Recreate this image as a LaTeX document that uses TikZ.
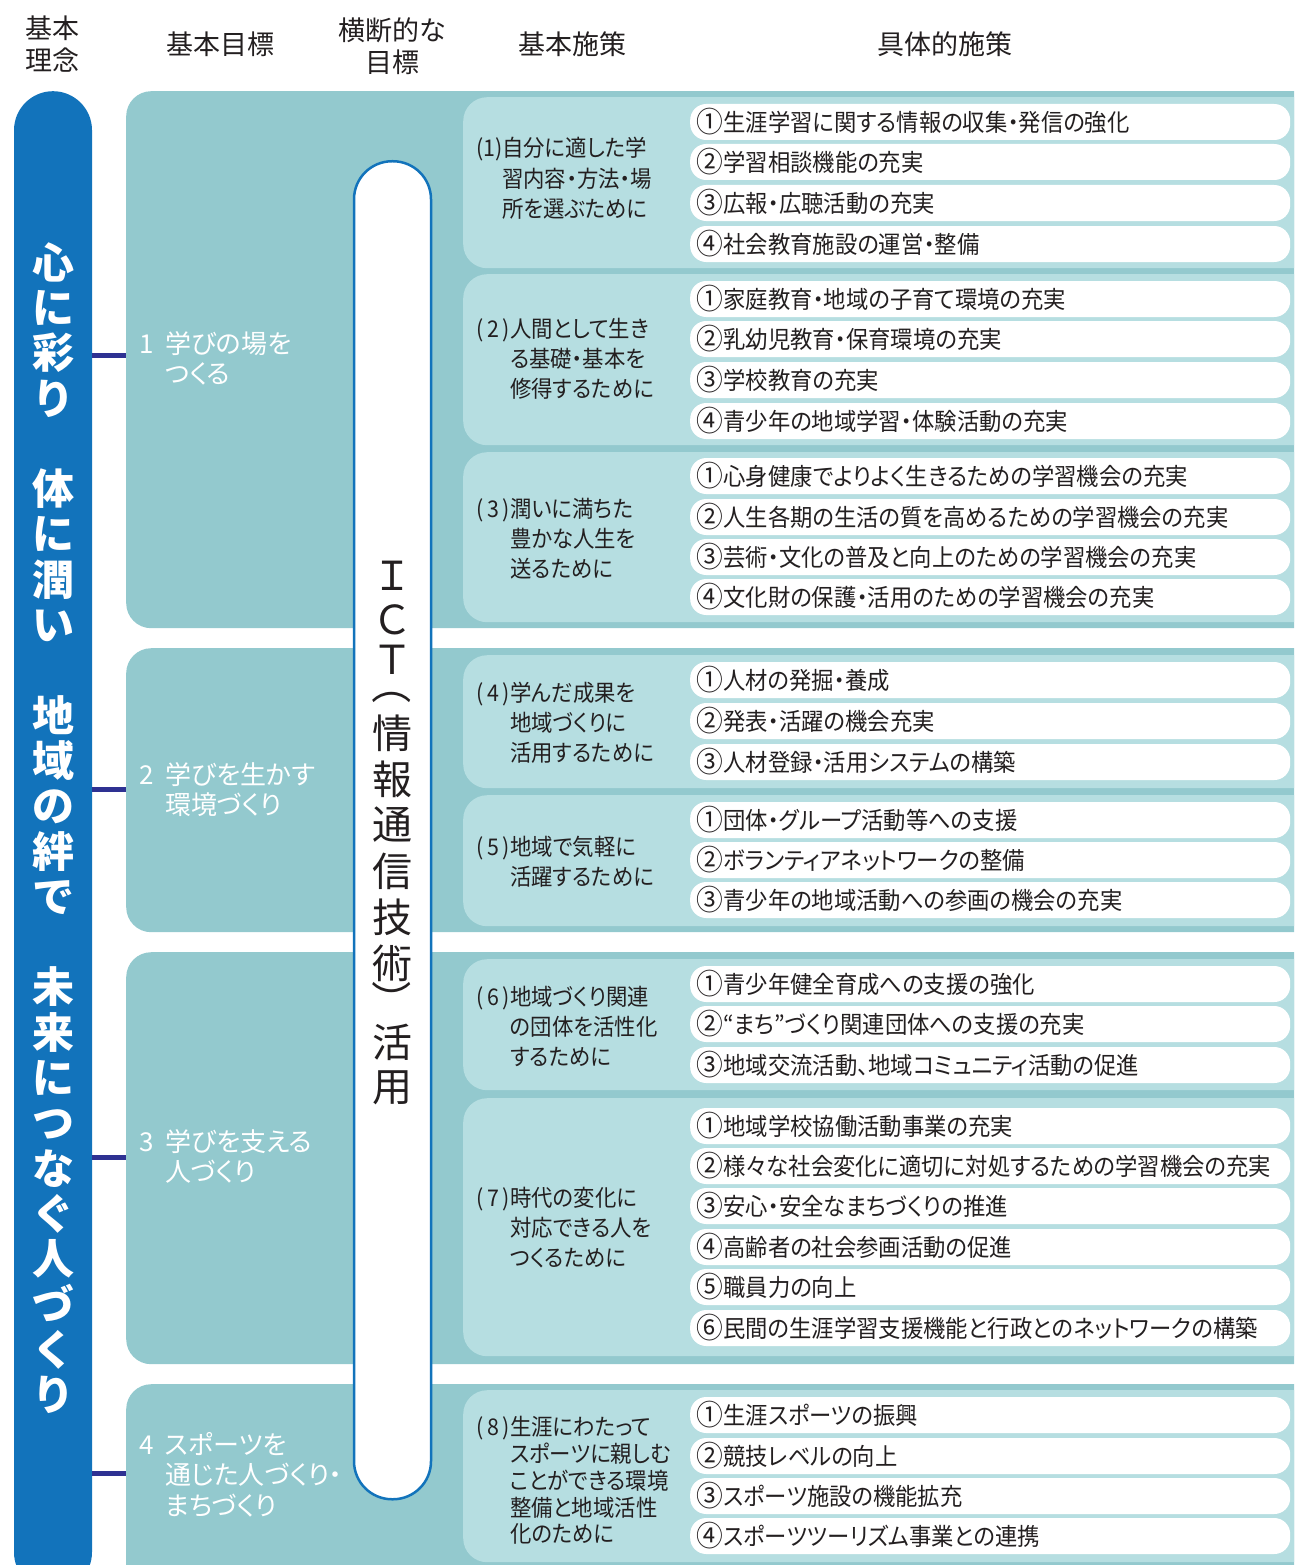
\documentclass[tikz,border=0pt]{standalone}
\usepackage{fontspec}
\setmainfont{Noto Sans CJK JP}
\newfontfamily\jpc{Noto Sans CJK JP}[RawFeature={+palt}, FakeStretch=0.93]
\newfontfamily\jpp{Noto Sans CJK JP}[RawFeature={+palt}]
\definecolor{barblue}{RGB}{18,115,187}
\definecolor{panelc}{RGB}{147,201,206}
\definecolor{subc}{RGB}{182,222,225}
\definecolor{navy}{RGB}{46,49,146}
\definecolor{ink}{RGB}{35,31,32}
\newcommand\hanglbl[3]{\begin{tabular}{@{}l@{}l@{}}#2&\begin{tabular}[t]{@{}l@{}}#3\end{tabular}\end{tabular}}
\newcommand\pnum[2]{\makebox[#1][s]{(\hfil#2\hfil)}}
\newcommand\cnum[1]{\raisebox{-1.6pt}{\scalebox{1.2}{#1}}\hspace{0.5pt}}
\begin{document}
\begin{tikzpicture}[x=1pt,y=-1pt,
  bar/.style={fill=barblue, rounded corners=39pt, minimum width=78pt, minimum height=1500pt, anchor=north, inner sep=0pt},
  panel/.style={fill=panelc, rounded corners=25pt, minimum width=1200pt, anchor=north west, inner sep=0pt},
  subpanel/.style={fill=subc, rounded corners=24pt, minimum width=880pt, anchor=north west, inner sep=0pt},
  item/.style={fill=white, rounded corners=16pt, minimum width=600pt, minimum height=36pt, anchor=west, inner xsep=6pt, inner ysep=0pt, text width=588pt, align=left, font=\jpc\fontsize{24}{28}\selectfont, text=ink},
  lbl/.style={anchor=west, inner sep=0pt, text=ink, font=\jpc\fontsize{23}{30}\selectfont},
  goal/.style={anchor=west, inner sep=0pt, text=white, font=\jpp\fontsize{26}{30}\selectfont},
  head/.style={inner sep=0pt, text=ink, align=center, font=\jpp\fontsize{27}{32}\selectfont},
  ictbar/.style={fill=white, draw=barblue, line width=2.5pt, rounded corners=38pt, minimum width=77pt, minimum height=1338pt, anchor=north, inner sep=0pt},
  ictch/.style={inner sep=0pt, text=ink, font=\fontsize{40}{40}\selectfont},
  conn/.style={draw=navy, line width=5pt}
]
\useasboundingbox (0,0) rectangle (1294,1565);
\begin{scope}
\clip (0,0) rectangle (1294,1565);
% headers
\node[head] (h1) at (52,44) {基本\\理念};
\node[head] (h2) at (220,44) {基本目標};
\node[head] (h3) at (392,46) {横断的な\\目標};
\node[head] (h4) at (572,44) {基本施策};
\node[head] (h5) at (945,44) {具体的施策};
% basic philosophy bar
\node[bar] (bar) at (53,91) {};
\node[inner sep=0pt, text=white, align=center, font=\bfseries\fontsize{42}{45.3}\selectfont] (motto) at (53,828)
  {心\\に\\彩\\り\\\mbox{}\\体\\に\\潤\\い\\\mbox{}\\地\\域\\の\\絆\\で\\\mbox{}\\未\\来\\に\\つ\\な\\ぐ\\人\\づ\\く\\り};
% goal panels
\node[panel, minimum height=537pt] (p1) at (126,91) {};
\node[panel, minimum height=284pt] (p2) at (126,648) {};
\node[panel, minimum height=412pt] (p3) at (126,952) {};
\node[panel, minimum height=250pt] (p4) at (126,1384) {};
% connectors
\coordinate (c1) at (0,355);
\coordinate (c2) at (0,789);
\coordinate (c3) at (0,1157);
\coordinate (c4) at (0,1473);
\draw[conn] (bar.east |- c1) -- (p1.west |- c1);
\draw[conn] (bar.east |- c2) -- (p2.west |- c2);
\draw[conn] (bar.east |- c3) -- (p3.west |- c3);
\draw[conn] (bar.east |- c4) -- (p4.west |- c4);
% goal labels
\node[goal] (g1) at (139,362) {\hanglbl{}{\makebox[26pt][l]{1}}{学びの場を\\つくる}};
\node[goal] (g2) at (139,793) {\hanglbl{}{\makebox[26pt][l]{2}}{学びを生かす\\環境づくり}};
\node[goal] (g3) at (139,1160) {\hanglbl{}{\makebox[26pt][l]{3}}{学びを支える\\人づくり}};
\node[goal] (g4) at (139,1478) {\hanglbl{}{\makebox[26pt][l]{4}}{スポーツを\\通じた人づくり・\\まちづくり}};
% sub panels
\node[subpanel, minimum height=171pt] (s1) at (463,97) {};
\node[subpanel, minimum height=171pt] (s2) at (463,274) {};
\node[subpanel, minimum height=170pt] (s3) at (463,452) {};
\node[subpanel, minimum height=133pt] (s4) at (463,655) {};
\node[subpanel, minimum height=131pt] (s5) at (463,795) {};
\node[subpanel, minimum height=131pt] (s6) at (463,959) {};
\node[subpanel, minimum height=258pt] (s7) at (463,1098) {};
\node[subpanel, minimum height=172pt] (s8) at (463,1390) {};
% measure labels
\node[lbl] (l1) at (476,181) {\hanglbl{}{\pnum{26pt}{1}}{自分に適した学\\習内容・方法・場\\所を選ぶために}};
\node[lbl] (l2) at (476,361) {\hanglbl{}{\pnum{34pt}{2}}{人間として生き\\る基礎・基本を\\修得するために}};
\node[lbl] (l3) at (476,541) {\hanglbl{}{\pnum{34pt}{3}}{潤いに満ちた\\豊かな人生を\\送るために}};
\node[lbl] (l4) at (476,725) {\hanglbl{}{\pnum{34pt}{4}}{学んだ成果を\\地域づくりに\\活用するために}};
\node[lbl] (l5) at (476,864) {\hanglbl{}{\pnum{34pt}{5}}{地域で気軽に\\活躍するために}};
\node[lbl] (l6) at (476,1029) {\hanglbl{}{\pnum{34pt}{6}}{地域づくり関連\\の団体を活性化\\するために}};
\node[lbl] (l7) at (476,1230) {\hanglbl{}{\pnum{34pt}{7}}{時代の変化に\\対応できる人を\\つくるために}};
\node[lbl, font=\jpc\fontsize{23}{25}\selectfont] (l8) at (476,1483) {\hanglbl{}{\pnum{34pt}{8}}{生涯にわたって\\スポーツに親しむ\\ことができる環境\\整備と地域活性\\化のために}};
% items
\foreach \n/\t/\y [count=\i] in {
 ①/生涯学習に関する情報の収集・発信の強化/122,
 ②/学習相談機能の充実/162,
 ③/広報・広聴活動の充実/203,
 ④/社会教育施設の運営・整備/244,
 ①/家庭教育・地域の子育て環境の充実/299,
 ②/乳幼児教育・保育環境の充実/339,
 ③/学校教育の充実/380,
 ④/青少年の地域学習・体験活動の充実/421,
 ①/心身健康でよりよく生きるための学習機会の充実/476,
 ②/人生各期の生活の質を高めるための学習機会の充実/517,
 ③/芸術・文化の普及と向上のための学習機会の充実/557,
 ④/文化財の保護・活用のための学習機会の充実/597,
 ①/人材の発掘・養成/680,
 ②/発表・活躍の機会充実/721,
 ③/人材登録・活用システムの構築/762,
 ①/団体・グループ活動等への支援/820,
 ②/ボランティアネットワークの整備/860,
 ③/青少年の地域活動への参画の機会の充実/900,
 ①/青少年健全育成への支援の強化/984,
 ②/“まち”づくり関連団体への支援の充実/1024,
 ③/地域交流活動、地域コミュニティ活動の促進/1065,
 ①/地域学校協働活動事業の充実/1126,
 ②/様々な社会変化に適切に対処するための学習機会の充実/1166,
 ③/安心・安全なまちづくりの推進/1206,
 ④/高齢者の社会参画活動の促進/1247,
 ⑤/職員力の向上/1287,
 ⑥/民間の生涯学習支援機能と行政とのネットワークの構築/1328,
 ①/生涯スポーツの振興/1415,
 ②/競技レベルの向上/1456,
 ③/スポーツ施設の機能拡充/1496,
 ④/スポーツツーリズム事業との連携/1536}
 {\node[item] (it\i) at (690,\y) {\cnum{\n}\t};}
% ICT bar
\node[ictbar] (ict) at (392.5,160) {};
\foreach \c/\y [count=\i] in {Ｉ/576, Ｃ/620, Ｔ/660, 情/733, 報/779, 通/825, 信/871, 技/917, 術/963, 活/1042, 用/1088}
 {\node[ictch] (ic\i) at (392,\y) {\c};}
\node[ictch, rotate=-90] (icp1) at (392,684) {（};
\node[ictch, rotate=-90] (icp2) at (392,1000) {）};
\end{scope}
\end{tikzpicture}
\end{document}
